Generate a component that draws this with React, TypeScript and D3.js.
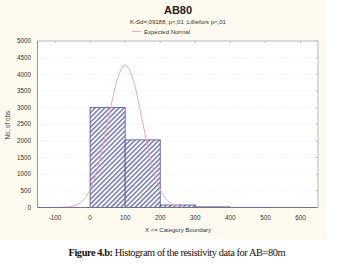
import React from "react";
import * as d3 from "d3";

const binStarts = [-100, 0, 100, 200, 300, 400, 500];
const binCounts = [0, 3000, 2030, 75, 18, 4, 0];
const curveX = [-150, -125, -100, -75, -50, -25, 0, 25, 50, 75, 100, 125, 150, 175, 200, 225, 250, 275, 300, 325, 350, 650];
const curveY = [0, 0, 1, 7, 40, 166, 535, 1327, 2544, 3758, 4280, 3758, 2544, 1327, 535, 166, 40, 7, 1, 0, 0, 0];
const xTicks = [-100, 0, 100, 200, 300, 400, 500, 600];
const yTicks = [0, 500, 1000, 1500, 2000, 2500, 3000, 3500, 4000, 4500, 5000];
const binWidth = 100;

export default function App() {
  const W = 344, H = 267;
  const L = 37.5, R = 318, T = 41, B = 207.5;
  const x = d3.scaleLinear().domain([-150, 650]).range([L, R]);
  const y = d3.scaleLinear().domain([0, 5000]).range([B, T]);
  const pts: [number, number][] = curveX.map((v, i) => [v, curveY[i]]);
  const line = d3.line<[number, number]>().x(d => x(d[0])).y(d => y(d[1])).curve(d3.curveMonotoneX);
  const navy = "#4a4f98";
  const sans = "Liberation Sans, Arial, sans-serif";
  return (
    <svg width={W} height={H} style={{ position: "absolute", left: 0, top: 0 }}>
      <defs>
        <pattern id="hatch" patternUnits="userSpaceOnUse" width={3.4} height={3.4} patternTransform="rotate(45)">
          <rect width={3.4} height={3.4} fill="#ffffff" />
          <line x1={0.8} y1={0} x2={0.8} y2={3.4} stroke={navy} strokeWidth={1.15} />
        </pattern>
        <clipPath id="plotclip"><rect x={L} y={T} width={R - L} height={B - T} /></clipPath>
      </defs>
      <rect x={0} y={0} width={W} height={H} fill="#ffffff" />
      <rect x={0} y={0} width={326} height={239} fill="#fefaef" />
      <rect x={L} y={T} width={R - L} height={B - T} fill="#ffffff" />
      {yTicks.slice(1, -1).map(t => (
        <line key={"g" + t} x1={L} x2={R} y1={y(t)} y2={y(t)} stroke="#d8d8e0" strokeWidth={0.6} strokeDasharray="1,2" />
      ))}
      {binStarts.map((s, i) => binCounts[i] > 0 ? (
        <rect key={"b" + s} x={x(s)} y={y(binCounts[i])} width={x(s + binWidth) - x(s)} height={B - y(binCounts[i])}
          fill="url(#hatch)" stroke={navy} strokeWidth={0.8} />
      ) : null)}
      <path d={line(pts) || ""} fill="none" stroke="#eca0ac" strokeWidth={0.9} clipPath="url(#plotclip)" />
      <rect x={L} y={T} width={R - L} height={B - T} fill="none" stroke="#a8a8b4" strokeWidth={0.8} />
      <line x1={L} x2={R} y1={B} y2={B} stroke="#6a6a8a" strokeWidth={0.9} />
      <line x1={L} x2={L} y1={T} y2={B} stroke="#8a8a9a" strokeWidth={0.8} />
      {xTicks.map(t => (
        <g key={"x" + t}>
          <line x1={x(t)} x2={x(t)} y1={T} y2={T + 2} stroke="#a8a8b4" strokeWidth={0.7} />
          <text x={x(t)} y={220} fontSize={6.3} fontFamily={sans} fill="#333" textAnchor="middle">{t}</text>
        </g>
      ))}
      {yTicks.map(t => (
        <g key={"y" + t}>
          <line x1={R - 2} x2={R} y1={y(t)} y2={y(t)} stroke="#a8a8b4" strokeWidth={0.7} />
          <text x={31} y={y(t) + 2.2} fontSize={6.3} fontFamily={sans} fill="#333" textAnchor="end">{t}</text>
        </g>
      ))}
      <text x={178} y={14} fontSize={11} fontWeight="bold" fontFamily={sans} fill="#222" textAnchor="middle">AB80</text>
      <text x={178} y={24} fontSize={6} fontFamily={sans} fill="#333" textAnchor="middle">K-Sd=,09188, p&lt;,01 ;Lilliefors p&lt;,01</text>
      <line x1={132} x2={141} y1={31.5} y2={31.5} stroke="#eca0ac" strokeWidth={0.9} />
      <text x={144} y={33.5} fontSize={6} fontFamily={sans} fill="#333">Expected Normal</text>
      <text transform={`translate(10,${(T + B) / 2}) rotate(-90)`} fontSize={6.3} fontFamily={sans} fill="#333" textAnchor="middle">No. of obs.</text>
      <text x={178} y={232} fontSize={6} fontFamily={sans} fill="#333" textAnchor="middle">X &lt;= Category Boundary</text>
      <text x={177} y={256} fontSize={10.4} fontFamily="Liberation Serif, Times New Roman, serif" fill="#111" textAnchor="middle" textLength={217} lengthAdjust="spacing">
        <tspan fontWeight="bold">Figure 4.b:</tspan> Histogram of the resistivity data for AB=80m
      </text>
    </svg>
  );
}
